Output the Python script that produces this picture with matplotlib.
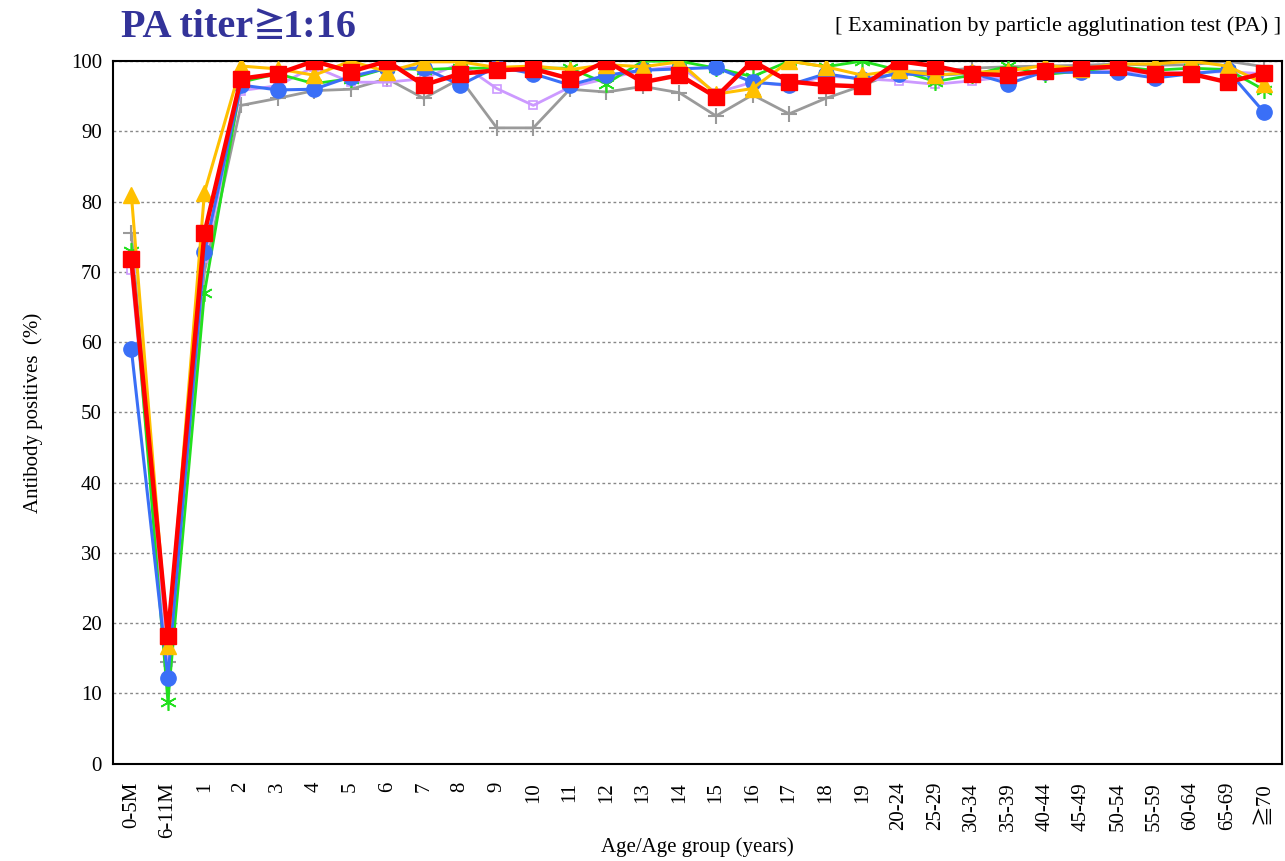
import matplotlib
matplotlib.use("Agg")
import matplotlib.pyplot as plt
import numpy as np

plt.rcParams['font.family'] = ['Liberation Serif', 'DejaVu Serif', 'Noto Sans CJK JP']

ages = ['0-5M', '6-11M', '1', '2', '3', '4', '5', '6', '7', '8', '9', '10', '11', '12',
        '13', '14', '15', '16', '17', '18', '19', '20-24', '25-29', '30-34', '35-39',
        '40-44', '45-49', '50-54', '55-59', '60-64', '65-69', '≧70']

# percent antibody positive, one list per survey year
blue = [59.0, 12.2, 72.8, 96.6, 95.9, 96.0, 97.8, 99.0, 99.0, 96.6, 99.2, 98.2, 96.6, 98.0,
        98.7, 98.9, 99.1, 97.0, 96.6, 98.2, 97.4, 98.2, 98.0, 98.3, 96.8, 98.5, 98.4, 98.4,
        97.6, 98.2, 98.7, 92.7]
yellow = [81.0, 16.7, 81.3, 99.3, 98.9, 98.0, 100.0, 98.5, 99.9, 99.9, 99.1, 99.3, 98.8, 99.5,
          99.2, 99.9, 95.3, 96.1, 100.0, 99.2, 98.0, 98.7, 98.0, 98.4, 98.6, 99.4, 98.9, 99.6,
          99.6, 100.0, 99.3, 96.8]
green = [73.0, 8.8, 67.0, 97.0, 98.2, 96.8, 97.5, 99.0, 98.8, 99.0, 99.0, 99.0, 99.0, 96.8,
         100.0, 100.0, 99.0, 97.8, 100.0, 99.2, 100.0, 98.7, 97.1, 98.0, 99.3, 98.1, 98.6, 99.2,
         98.7, 99.0, 98.8, 95.9]
gray = [75.5, 14.5, 70.0, 93.7, 94.7, 95.8, 96.0, 97.5, 94.7, 97.5, 90.5, 90.5, 96.0, 95.6,
        96.4, 95.5, 92.2, 95.2, 92.5, 94.7, 96.5, 98.6, 98.5, 99.0, 99.2, 99.3, 99.4, 99.6,
        99.4, 99.5, 100.0, 99.2]
purple = [70.3, 14.5, 72.0, 95.8, 96.5, 99.2, 97.0, 97.0, 97.5, 99.7, 96.1, 93.7, 96.3, 97.5,
          98.7, 99.3, 95.5, 97.0, 96.5, 97.9, 97.5, 97.2, 96.7, 97.2, 97.8, 98.3, 98.5, 98.6,
          98.2, 98.4, 98.5, 98.2]
red = [71.8, 18.2, 75.5, 97.5, 98.2, 100.0, 98.5, 100.0, 96.6, 98.2, 98.7, 98.9, 97.5, 100.0,
       97.0, 98.0, 94.9, 100.0, 97.1, 96.6, 96.4, 100.0, 99.3, 98.2, 98.0, 98.6, 99.0, 99.2,
       98.2, 98.2, 97.0, 98.3]

fig = plt.figure(figsize=(12.85, 8.61), dpi=100)
ax = fig.add_axes([0.088, 0.113, 0.910, 0.816])

x = np.arange(len(ages))
ax.plot(x, gray, color='#9a9a9a', lw=2, marker='+', ms=11, mew=1.5, zorder=2)
ax.plot(x, purple, color='#cc99ff', lw=2, marker='s', ms=6, mfc='none', mew=1.2, zorder=2)
ax.plot(x, green, color='#22e01e', lw=2, marker=(6, 2, 0), ms=12, mew=1.2, zorder=3)
ax.plot(x, blue, color='#3a6ff7', lw=2.2, marker='o', ms=11, zorder=3)
ax.plot(x, yellow, color='#ffc000', lw=2.2, marker='^', ms=11, zorder=4)
ax.plot(x, red, color='#ff0000', lw=3.2, marker='s', ms=11, zorder=5)

ax.set_xlim(-0.5, len(ages) - 0.5)
ax.set_ylim(0, 100)
ax.set_yticks(range(0, 101, 10))
ax.yaxis.grid(True, linestyle=(0, (2, 2)), color='#888888', lw=1)
ax.set_axisbelow(True)
ax.set_xticks(x)
ax.set_xticklabels(ages, rotation=90, fontsize=15)
ax.tick_params(axis='y', labelsize=15, length=0, pad=8)
ax.tick_params(axis='x', length=0, pad=13)
for s in ax.spines.values():
    s.set_linewidth(1.5)

ax.set_ylabel('Antibody positives  (%)', fontsize=15, labelpad=20)
ax.set_xlabel('Age/Age group (years)', fontsize=15, labelpad=0)

fig.text(0.094, 0.968, 'PA titer', fontsize=29, fontweight='bold', color='#333399',
         va='center', ha='left')
fig.text(0.196, 0.968, '≧', fontsize=24, fontweight='bold', color='#333399',
         va='center', ha='left', family=['Noto Sans CJK JP'])
fig.text(0.22, 0.968, '1:16', fontsize=29, fontweight='bold', color='#333399',
         va='center', ha='left')
fig.text(0.997, 0.97, '[ Examination by particle agglutination test (PA) ]', fontsize=16,
         va='center', ha='right')

fig.savefig('out.png', dpi=100)
